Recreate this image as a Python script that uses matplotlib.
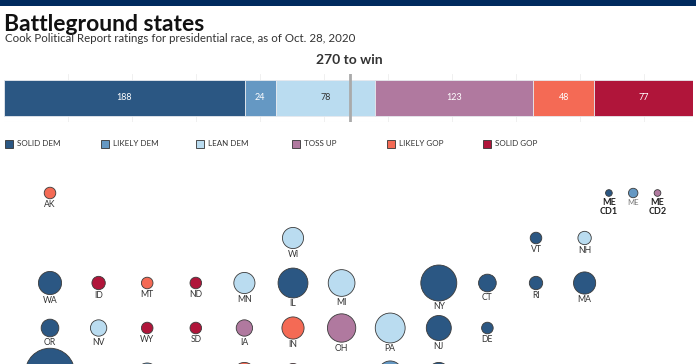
import matplotlib.pyplot as plt
import numpy as np

plt.rcParams['font.family'] = ['Lato', 'DejaVu Sans']

# ratings bar
ratings = ['SOLID DEM', 'LIKELY DEM', 'LEAN DEM', 'TOSS UP', 'LIKELY GOP', 'SOLID GOP']
votes = [188, 24, 78, 123, 48, 77]
colors = ['#2b5783', '#6598c3', '#badcf0', '#b0799f', '#f46a55', '#b0153a']
label_colors = ['white', 'white', '#333333', 'white', 'white', 'white']

# tile map: state, column, row, electoral votes, rating index
states = ['AK', 'WI', 'VT', 'NH',
          'WA', 'ID', 'MT', 'ND', 'MN', 'IL', 'MI', 'NY', 'CT', 'RI', 'MA',
          'OR', 'NV', 'WY', 'SD', 'IA', 'IN', 'OH', 'PA', 'NJ', 'DE',
          'CA', 'UT', 'CO', 'NE', 'MO', 'KY', 'WV', 'VA', 'MD', 'DC']
cols = [0, 5, 10, 11,
        0, 1, 2, 3, 4, 5, 6, 8, 9, 10, 11,
        0, 1, 2, 3, 4, 5, 6, 7, 8, 9,
        0, 1, 2, 3, 4, 5, 6, 7, 8, 9]
rows = [0, 1, 1, 1,
        2, 2, 2, 2, 2, 2, 2, 2, 2, 2, 2,
        3, 3, 3, 3, 3, 3, 3, 3, 3, 3,
        4, 4, 4, 4, 4, 4, 4, 4, 4, 4]
ev = [3, 10, 3, 4,
      12, 4, 3, 3, 10, 20, 16, 29, 7, 4, 11,
      7, 6, 3, 3, 6, 11, 18, 20, 14, 3,
      55, 6, 9, 2, 10, 8, 5, 13, 10, 3]
rating = [4, 2, 0, 2,
          0, 5, 4, 5, 2, 0, 2, 0, 0, 0, 0,
          0, 2, 5, 5, 3, 4, 3, 2, 0, 0,
          0, 5, 1, 5, 4, 5, 5, 1, 0, 0]

# Maine splits
me_names = ['ME\nCD1', 'ME', 'ME\nCD2']
me_cols = [11.5, 12, 12.5]
me_ev = [1, 2, 1]
me_rating = [0, 1, 3]

W, H = 696, 364
fig = plt.figure(figsize=(W / 100, H / 100), dpi=100)

# header band
band = fig.add_axes([0, 1 - 6 / H, 1, 6 / H])
band.set_facecolor('#002a5e')
band.set_xticks([]); band.set_yticks([])
for s in band.spines.values():
    s.set_visible(False)

fig.text(4 / W, 1 - 31 / H, 'Battleground states', fontsize=16.5, fontweight='bold', color='#111111')
fig.text(5 / W, 1 - 42.5 / H, 'Cook Political Report ratings for presidential race, as of Oct. 28, 2020',
         fontsize=8.3, color='#333333')

# stacked bar
bx = fig.add_axes([4 / W, 1 - 122 / H, 689 / W, 48 / H])
total = sum(votes)
left = 0
for v, c, lc in zip(votes, colors, label_colors):
    bx.barh(0, v, left=left, height=1.54, color=c, edgecolor='#e6e9ee', linewidth=0.6, zorder=2)
    bx.text(left + v / 2, 0, str(v), ha='center', va='center', fontsize=6.5, color=lc, zorder=3)
    left += v
bx.set_xlim(0, total)
bx.set_ylim(-1, 1)
for t in np.arange(50, total, 50):
    bx.axvline(t, color='#eeeeee', linewidth=0.6, zorder=1)
bx.axhline(-1, color='#eeeeee', linewidth=0.8)
bx.axvline(270, color='#aaaaaa', linewidth=2, zorder=4)
bx.text(270, 1.35, '270 to win', ha='center', va='bottom', fontsize=10, fontweight='bold', color='#333333')
bx.axis('off')

# legend
for i, (name, c) in enumerate(zip(ratings, colors)):
    x0 = 5 + i * 95.6
    fig.patches.append(plt.Rectangle((x0 / W, 1 - 147.5 / H), 8 / W, 8 / H, transform=fig.transFigure,
                                     facecolor=c, edgecolor='#333333', linewidth=0.6, figure=fig))
    fig.text((x0 + 12) / W, 1 - 143.5 / H, name, fontsize=5.8, va='center', color='#333333')

# tile map
mx = fig.add_axes([0, 0, 1, 1], zorder=-1)
mx.set_xlim(-50 / 48.6, (W - 50) / 48.6)
mx.set_ylim((H - 193) / 45, -193 / 45)
mx.axis('off')

r_pt = 3.34 * 0.72  # circle radius in points per sqrt(EV)

mx.scatter(cols, rows, s=[(2 * r_pt) ** 2 * e for e in ev], c=[colors[r] for r in rating],
           edgecolors='#3a3a3a', linewidths=0.6, zorder=2)
for st, cx, cy, e in zip(states, cols, rows, ev):
    mx.annotate(st, (cx, cy), xytext=(0, -(r_pt * np.sqrt(e) + 1)), textcoords='offset points',
                ha='center', va='top', fontsize=6.2, color='#333333')

mx.scatter(me_cols, [0] * 3, s=[(2 * r_pt) ** 2 * e for e in me_ev], c=[colors[r] for r in me_rating],
           edgecolors='#3a3a3a', linewidths=0.6, zorder=2)
for name, cx, e in zip(me_names, me_cols, me_ev):
    bold = '\n' in name
    mx.annotate(name, (cx, 0), xytext=(0, -(r_pt * np.sqrt(e) + 1)), textcoords='offset points',
                ha='center', va='top', fontsize=6.5 if bold else 5.5, linespacing=1.0,
                fontweight='bold' if bold else 'normal', color='#222222' if bold else '#777777')

fig.savefig('out.png', dpi=100)
